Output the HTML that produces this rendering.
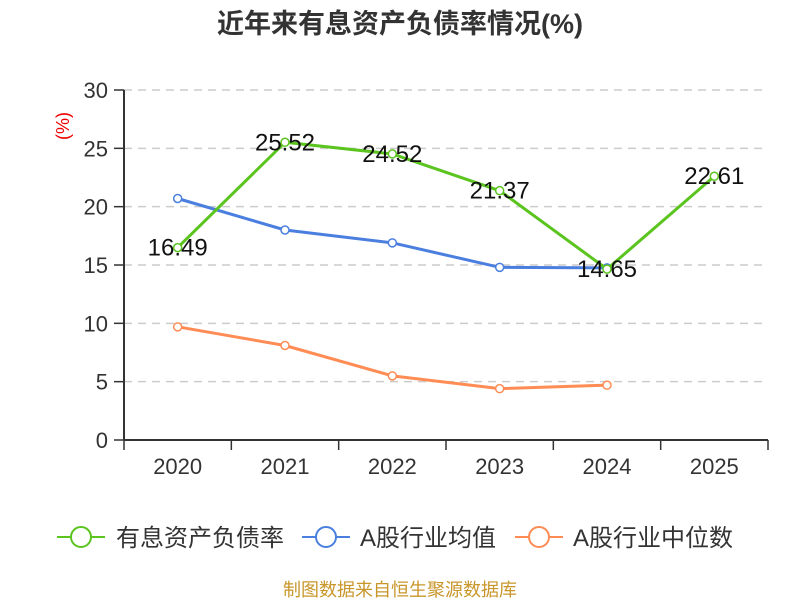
<!DOCTYPE html>
<html><head><meta charset="utf-8"><style>
body{margin:0;width:800px;height:600px;background:#fff;overflow:hidden}
svg{font-family:"Liberation Sans","Noto Sans CJK SC",sans-serif}
</style></head><body>
<svg id="c" width="800" height="600">
<text x="400" y="33" text-anchor="middle" font-size="27" font-weight="bold" fill="#333">近年来有息资产负债率情况(%)</text>
<text transform="translate(69,126) rotate(-90)" text-anchor="middle" font-size="18" fill="#e00">(%)</text>
<g id="grid"></g><g id="axes"></g><g id="series"></g>
<g>
<g><line x1="57" y1="537" x2="105" y2="537" stroke="#5bc41f" stroke-width="2"/><circle cx="81" cy="537" r="10" fill="#fff" stroke="#5bc41f" stroke-width="2"/><text x="116" y="546" font-size="24" fill="#333">有息资产负债率</text></g>
<g><line x1="302" y1="537" x2="350" y2="537" stroke="#4a7fdf" stroke-width="2"/><circle cx="326" cy="537" r="10" fill="#fff" stroke="#4a7fdf" stroke-width="2"/><text x="360" y="546" font-size="24" fill="#333">A股行业均值</text></g>
<g><line x1="515" y1="537" x2="563" y2="537" stroke="#ff8c55" stroke-width="2"/><circle cx="539" cy="537" r="10" fill="#fff" stroke="#ff8c55" stroke-width="2"/><text x="573" y="546" font-size="24" fill="#333">A股行业中位数</text></g>
</g>
<text x="400" y="596" text-anchor="middle" font-size="18" fill="#c8962a">制图数据来自恒生聚源数据库</text>
</svg>
<script>
const categories=["2020","2021","2022","2023","2024","2025"];
const debtRatio=[16.49,25.52,24.52,21.37,14.65,22.61];
const industryMean=[20.7,18.0,16.9,14.8,14.75,null];
const industryMedian=[9.7,8.1,5.5,4.4,4.7,null];
const yTicks=[0,5,10,15,20,25,30];
const NS="http://www.w3.org/2000/svg";
const X0=124,X1=768,Y0=440,Y1=90,YMAX=30;
const bw=(X1-X0)/categories.length;
const xs=i=>X0+bw*(i+0.5);
const ys=v=>Y0-(v/YMAX)*(Y0-Y1);
function mk(t,a,p){const e=document.createElementNS(NS,t);for(const k in a)e.setAttribute(k,a[k]);p.appendChild(e);return e;}
const grid=document.getElementById('grid'),axes=document.getElementById('axes'),ser=document.getElementById('series');
yTicks.forEach(v=>{
 if(v>0){const g=mk('line',{x1:X0,x2:X1,y1:ys(v),y2:ys(v),stroke:'#ccc','stroke-dasharray':'8,6','stroke-width':1.5},grid);
 
 }
 const tk=mk('line',{x1:X0-10,x2:X0,y1:ys(v),y2:ys(v),stroke:'#333','stroke-width':1.5},axes);
 
 
 const t=mk('text',{x:X0-16,y:ys(v)+8,'text-anchor':'end','font-size':22,fill:'#333'},axes);t.textContent=v;
 
 
});
const ya=mk('line',{x1:X0,x2:X0,y1:Y1,y2:Y0,stroke:'#333','stroke-width':2},axes);


const xa=mk('line',{x1:X0,x2:X1,y1:Y0,y2:Y0,stroke:'#333','stroke-width':2},axes);


for(let i=0;i<=categories.length;i++){const tk=mk('line',{x1:X0+bw*i,x2:X0+bw*i,y1:Y0,y2:Y0+10,stroke:'#333','stroke-width':1.5},axes);
 
 }
categories.forEach((c,i)=>{const t=mk('text',{x:xs(i),y:Y0+34,'text-anchor':'middle','font-size':22,fill:'#333'},axes);t.textContent=c;
 
 });
function draw(vals,color,name,labels){
 const pts=vals.map((v,i)=>v==null?null:[xs(i),ys(v)]).filter(p=>p);
 const pl=mk('polyline',{points:pts.map(p=>p.join(',')).join(' '),fill:'none',stroke:color,'stroke-width':3,'stroke-linejoin':'round'},ser);
 
 
 vals.forEach((v,i)=>{if(v==null)return;
  const c=mk('circle',{cx:xs(i),cy:ys(v),r:4,fill:'#fff',stroke:color,'stroke-width':1.5},ser);
  
  
  if(labels){const t=mk('text',{x:xs(i),y:ys(v)+8,'text-anchor':'middle','font-size':24,fill:'#111'},ser);t.textContent=v.toFixed(2);
   
   }
 });
}
draw(industryMedian,'#ff8c55','industry-median',false);
draw(industryMean,'#4a7fdf','industry-mean',false);
draw(debtRatio,'#5bc41f','debt-ratio',true);
</script>
</body></html>
